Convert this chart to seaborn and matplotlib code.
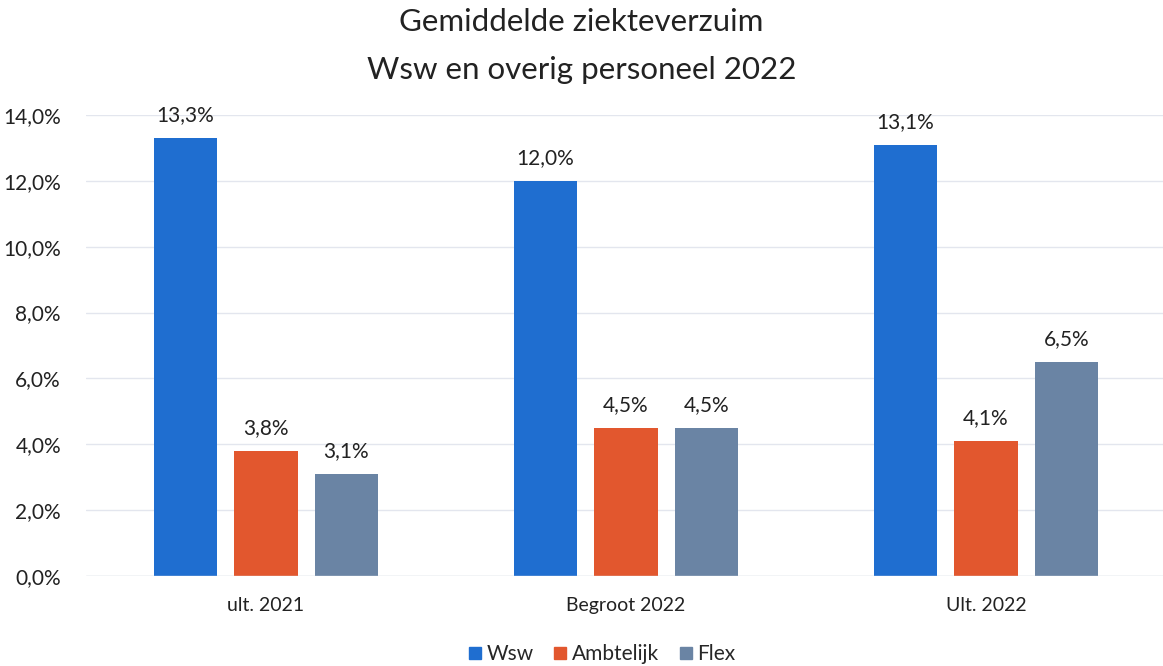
import pandas as pd
import matplotlib.pyplot as plt
import seaborn as sns

perioden = ["ult. 2021", "Begroot 2022", "Ult. 2022"]
reeksen = ["Wsw", "Ambtelijk", "Flex"]
wsw = [13.3, 12.0, 13.1]
ambtelijk = [3.8, 4.5, 4.1]
flex = [3.1, 4.5, 6.5]
kleuren = ["#1F6ED0", "#E2572E", "#6A84A4"]

df = pd.DataFrame({
    "Periode": perioden * 3,
    "Groep": [r for r in reeksen for _ in perioden],
    "Verzuim": wsw + ambtelijk + flex,
})

sns.set_style("white")
plt.rcParams['font.family'] = ['Lato', 'DejaVu Sans']

fig = plt.figure(figsize=(11.63, 6.66), dpi=100)
ax = fig.add_axes([86 / 1163, 90 / 666, 1080 / 1163, 461 / 666])

sns.barplot(data=df, x="Periode", y="Verzuim", hue="Groep", order=perioden,
            hue_order=reeksen, palette=kleuren, width=0.67, gap=0.21,
            saturation=1, linewidth=0, ax=ax)

for c in ax.containers:
    ax.bar_label(c, labels=[f"{v:.1f}%".replace(".", ",") for v in c.datavalues],
                 padding=9, fontsize=15, color="#222222")

ax.set_ylim(0, 14)
ax.set_yticks(range(0, 15, 2))
ax.set_yticklabels([f"{t:.1f}%".replace(".", ",") for t in range(0, 15, 2)])
ax.yaxis.grid(True, color="#E3E6EE", linewidth=1)
ax.set_axisbelow(True)
ax.tick_params(axis="y", labelsize=15, length=0, labelcolor="#222222", pad=18)
ax.tick_params(axis="x", labelsize=14, length=0, labelcolor="#222222", pad=15)
ax.set_xlabel("")
ax.set_ylabel("")
sns.despine(ax=ax, left=True, bottom=True)
ax.axhline(0, color="#D9DCE4", linewidth=1)

ax.legend_.remove()
handles = [plt.Line2D([], [], marker="s", linestyle="", markersize=9, color=k) for k in kleuren]
fig.legend(handles, reeksen, loc="center", bbox_to_anchor=(600 / 1163, 12 / 666),
           ncol=3, frameon=False, fontsize=15, handletextpad=0.05,
           columnspacing=0.8, handlelength=1.0)

fig.text(0.5, 1 - 22 / 666, "Gemiddelde ziekteverzuim", ha="center", va="center",
         fontsize=22.5, color="#222222")
fig.text(0.5, 1 - 70 / 666, "Wsw en overig personeel 2022", ha="center", va="center",
         fontsize=22.5, color="#222222")

fig.savefig("out.png", dpi=100)
